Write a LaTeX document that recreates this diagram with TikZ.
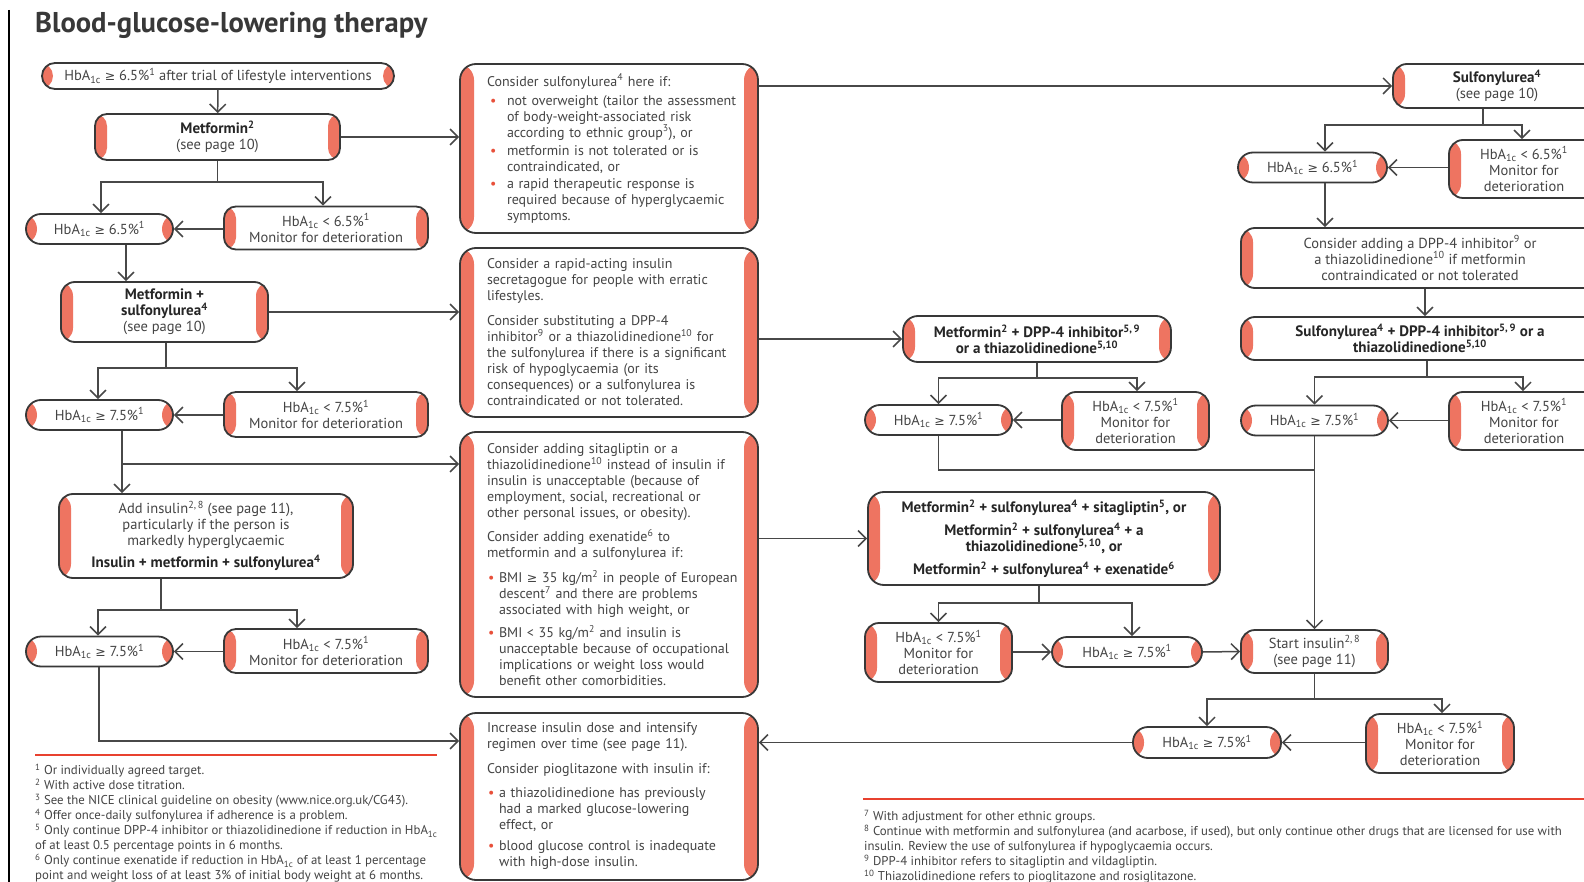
\documentclass[tikz,border=0pt]{standalone}
\usepackage{fontspec}
\setmainfont{PT Sans}[BoldFeatures={Scale=1.04}]
\newfontfamily\symfont{DejaVu Sans}
\usetikzlibrary{arrows.meta}

\definecolor{bandred}{HTML}{EE7461}
\definecolor{dotred}{HTML}{E8503A}
\definecolor{rulered}{HTML}{E8412F}
\definecolor{edge}{HTML}{383838}
\definecolor{wire}{HTML}{484848}
\definecolor{ink}{HTML}{444444}
\definecolor{inkdark}{HTML}{262626}

\newcommand\hba{HbA\textsubscript{1c}}
\newcommand\gesym{{\symfont\fontsize{12.5}{12.5}\selectfont ≥}}
\newcommand\fontL{\fontsize{14.5}{16}\selectfont}
\newcommand\fontM{\fontsize{14}{16}\selectfont}
\newcommand\fontR{\fontsize{14.5}{16}\selectfont}
\newcommand\fontN{\fontsize{12.8}{15}\selectfont}
\newcommand\bb[1]{{\bfseries\color{inkdark}#1}}
% bullet item: #1 space before bullet, #2 indent of text, #3 lines
\newcommand\bul[3]{\par\noindent\makebox[#2][l]{\hspace{#1}\textcolor{dotred}{\textbullet}}\parbox[t]{270pt}{\raggedright #3}\par}

\tikzset{
  bandw/.store in=\bandw, bandw=12pt,
  box/.style={draw=edge, line width=1.8pt, fill=white, rounded corners=12pt,
    inner sep=0pt, align=center, text=ink, font=\fontL,
    path picture={
      \fill[bandred] (path picture bounding box.south west) rectangle
        ([xshift=\bandw]path picture bounding box.north west);
      \fill[bandred] (path picture bounding box.south east) rectangle
        ([xshift=-\bandw]path picture bounding box.north east);
    }},
  pill/.style={box, rounded corners=15pt, bandw=11pt},
  note/.style={box, bandw=14pt, rounded corners=16pt, font=\fontM,
    text width=244pt, align=left, minimum width=298pt},
  rbox/.style={box, font=\fontR},
  rpill/.style={pill, font=\fontR},
  conn/.style={draw=wire, line width=1.5pt},
  arr/.style={conn, -{Straight Barb[length=8pt,width=16pt]}},
  foot/.style={anchor=north west, inner sep=0pt, align=left, text=ink, font=\fontN}
}

\begin{document}
\begin{tikzpicture}[x=1pt,y=-1pt]
\useasboundingbox[fill=white] (0,0) rectangle (1584,882);

% page margin rule and title
\draw[black, line width=1.5pt] (9,10) -- (9,882);
\node[anchor=base west, inner sep=0pt, text=edge,
      font=\fontsize{27.5}{30}\selectfont\bfseries] (title) at (35,33)
      {Blood-glucose-lowering therapy};

% ---------- left column ----------
\node[box, minimum width=352pt, minimum height=26pt, rounded corners=13pt, bandw=11pt]
  (start) at (218,76) {\hba\ \gesym\ 6.5\%\textsuperscript{1} after trial of lifestyle interventions};
\node[box, minimum width=245pt, minimum height=46pt] (met) at (217.5,137)
  {\bb{Metformin\textsuperscript{2}}\\(see page 10)};
\node[pill, minimum width=147pt, minimum height=30pt] (hba1) at (99.5,229)
  {\hba\ \gesym\ 6.5\%\textsuperscript{1}};
\node[box, minimum width=204pt, minimum height=43pt] (mon1) at (326,228)
  {\hba\ < 6.5\%\textsuperscript{1}\\Monitor for deterioration};
\node[box, minimum width=207pt, minimum height=60pt, rounded corners=14pt] (metsu) at (164.5,312)
  {\bb{Metformin +}\\\bb{sulfonylurea\textsuperscript{4}}\\(see page 10)};
\node[pill, minimum width=147pt, minimum height=30pt] (hba2) at (99.5,415)
  {\hba\ \gesym\ 7.5\%\textsuperscript{1}};
\node[box, minimum width=204pt, minimum height=45pt] (mon2) at (326,414.5)
  {\hba\ < 7.5\%\textsuperscript{1}\\Monitor for deterioration};
\node[box, minimum width=294pt, minimum height=84pt, rounded corners=14pt] (addins) at (206,536)
  {Add insulin\textsuperscript{2,\,8} (see page 11),\\particularly if the person is\\markedly hyperglycaemic\\[6pt]
   \bb{Insulin + metformin + sulfonylurea\textsuperscript{4}}};
\node[pill, minimum width=147pt, minimum height=30pt] (hba3) at (99.5,651.5)
  {\hba\ \gesym\ 7.5\%\textsuperscript{1}};
\node[box, minimum width=204pt, minimum height=44pt] (mon3) at (326,651)
  {\hba\ < 7.5\%\textsuperscript{1}\\Monitor for deterioration};

% ---------- middle column ----------
\node[note, minimum height=169pt] (csu) at (609,148.5)
  {Consider sulfonylurea\textsuperscript{4} here if:\par\vspace{3pt}
   \bul{3pt}{20pt}{not overweight (tailor the assessment\\of body-weight-associated risk\\according to ethnic group\textsuperscript{3}), or}\vspace{4pt}
   \bul{3pt}{20pt}{metformin is not tolerated or is\\contraindicated, or}\vspace{4pt}
   \bul{3pt}{20pt}{a rapid therapeutic response is\\required because of hyperglycaemic\\symptoms.}};
\node[note, minimum height=169pt] (crapid) at (609,332.5)
  {Consider a rapid-acting insulin\\secretagogue for people with erratic\\lifestyles.\par\vspace{9pt}
   Consider substituting a DPP-4\\inhibitor\textsuperscript{9} or a thiazolidinedione\textsuperscript{10} for\\the sulfonylurea if there is a significant\\risk of hypoglycaemia (or its\\consequences) or a sulfonylurea is\\contraindicated or not tolerated.};
\node[note, minimum height=265pt] (csita) at (609,564.5)
  {Consider adding sitagliptin or a\\thiazolidinedione\textsuperscript{10} instead of insulin if\\insulin is unacceptable (because of\\employment, social, recreational or\\other personal issues, or obesity).\par\vspace{8pt}
   Consider adding exenatide\textsuperscript{6} to\\metformin and a sulfonylurea if:\par\vspace{9pt}
   \bul{1pt}{12pt}{BMI \gesym\ 35 kg/m\textsuperscript{2} in people of European\\descent\textsuperscript{7} and there are problems\\associated with high weight, or}\vspace{7pt}
   \bul{1pt}{12pt}{BMI < 35 kg/m\textsuperscript{2} and insulin is\\unacceptable because of occupational\\implications or weight loss would\\benefit other comorbidities.}};
\node[note, minimum height=167pt] (cinc) at (609,796.5)
  {Increase insulin dose and intensify\\regimen over time (see page 11).\par\vspace{9pt}
   Consider pioglitazone with insulin if:\par\vspace{8pt}
   \bul{1pt}{12pt}{a thiazolidinedione has previously\\had a marked glucose-lowering\\effect, or}\vspace{8pt}
   \bul{1pt}{12pt}{blood glucose control is inadequate\\with high-dose insulin.}};

% ---------- centre-right column ----------
\node[rbox, minimum width=268pt, minimum height=46pt, rounded corners=15pt] (mdpp) at (1037,339)
  {\bb{Metformin\textsuperscript{2} + DPP-4 inhibitor\textsuperscript{5,\,9}}\\\bb{or a thiazolidinedione\textsuperscript{5,10}}};
\node[rpill, minimum width=147pt, minimum height=30pt] (hba4) at (938.5,420)
  {\hba\ \gesym\ 7.5\%\textsuperscript{1}};
\node[rbox, minimum width=147pt, minimum height=58pt, rounded corners=14pt] (mon4) at (1135.5,421)
  {\hba\ < 7.5\%\textsuperscript{1}\\Monitor for\\deterioration};
\node[rbox, minimum width=352pt, minimum height=93pt, rounded corners=16pt] (big) at (1044,538.5)
  {\bb{Metformin\textsuperscript{2} + sulfonylurea\textsuperscript{4} + sitagliptin\textsuperscript{5}, or}\\[7pt]
   \bb{Metformin\textsuperscript{2} + sulfonylurea\textsuperscript{4} + a}\\\bb{thiazolidinedione\textsuperscript{5,\,10}, or}\\[7pt]
   \bb{Metformin\textsuperscript{2} + sulfonylurea\textsuperscript{4} + exenatide\textsuperscript{6}}};
\node[rbox, minimum width=147pt, minimum height=59pt, rounded corners=14pt] (mon5) at (938.5,652.5)
  {\hba\ < 7.5\%\textsuperscript{1}\\Monitor for\\deterioration};
\node[rpill, minimum width=150pt, minimum height=30pt] (hba5) at (1127,652)
  {\hba\ \gesym\ 7.5\%\textsuperscript{1}};

% ---------- right column ----------
\node[rbox, minimum width=208pt, minimum height=44pt, rounded corners=14pt] (su) at (1497,86)
  {\bb{Sulfonylurea\textsuperscript{4}}\\(see page 10)};
\node[rpill, minimum width=149pt, minimum height=30pt] (hba6) at (1312.5,167.5)
  {\hba\ \gesym\ 6.5\%\textsuperscript{1}};
\node[rbox, minimum width=150pt, minimum height=58pt, rounded corners=14pt] (mon6) at (1524,169)
  {\hba\ < 6.5\%\textsuperscript{1}\\Monitor for\\deterioration};
\node[rbox, minimum width=358pt, minimum height=60pt, rounded corners=14pt] (cdpp) at (1420,258)
  {Consider adding a DPP-4 inhibitor\textsuperscript{9} or\\a thiazolidinedione\textsuperscript{10} if metformin\\contraindicated or not tolerated};
\node[rbox, minimum width=358pt, minimum height=43pt, rounded corners=14pt] (sudpp) at (1420,338.5)
  {\bb{Sulfonylurea\textsuperscript{4} + DPP-4 inhibitor\textsuperscript{5,\,9} or a}\\\bb{thiazolidinedione\textsuperscript{5,10}}};
\node[rpill, minimum width=147pt, minimum height=30pt] (hba7) at (1314.5,420.5)
  {\hba\ \gesym\ 7.5\%\textsuperscript{1}};
\node[rbox, minimum width=150pt, minimum height=58pt, rounded corners=14pt] (mon7) at (1524,421)
  {\hba\ < 7.5\%\textsuperscript{1}\\Monitor for\\deterioration};
\node[rbox, minimum width=147pt, minimum height=43pt, rounded corners=14pt] (startins) at (1314.5,651.5)
  {Start insulin\textsuperscript{2,\,8}\\(see page 11)};
\node[rpill, minimum width=148pt, minimum height=31pt] (hba8) at (1207,742.5)
  {\hba\ \gesym\ 7.5\%\textsuperscript{1}};
\node[rbox, minimum width=148pt, minimum height=59pt, rounded corners=14pt] (mon8) at (1440,743.5)
  {\hba\ < 7.5\%\textsuperscript{1}\\Monitor for\\deterioration};

% ---------- connectors: left column ----------
\draw[arr] (start) -- (met);
\coordinate (j1) at (217.5,182);
\draw[conn] (met.south) -- (j1);
\draw[arr] (j1) -| ([xshift=1.5]hba1.north);
\draw[arr] (j1) -| ([xshift=-3]mon1.north);
\draw[arr] (mon1.west |- hba1.east) -- (hba1.east);
\draw[arr] ([xshift=26.5]hba1.south) -- ([xshift=26.5]hba1.south |- metsu.north);

\coordinate (j2) at (166,368);
\draw[conn] (j2 |- metsu.south) -- (j2);
\draw[arr] (j2) -| ([xshift=-1.5]hba2.north);
\draw[arr] (j2) -| ([xshift=-29]mon2.north);
\draw[arr] (mon2.west |- hba2.east) -- (hba2.east);

\coordinate (j3) at (122,464);
\draw[arr] ([xshift=22.5]hba2.south) -- ([xshift=22.5]hba2.south |- addins.north);
\draw[arr] (j3) -- (j3 -| csita.west);

\coordinate (j4) at (161,610);
\draw[conn] (j4 |- addins.south) -- (j4);
\draw[arr] (j4) -| ([xshift=-1.5]hba3.north);
\draw[arr] (j4) -| ([xshift=-29]mon3.north);
\draw[arr] (mon3.west |- hba3.east) -- (hba3.east);

\coordinate (j5) at (99,741);
\draw[arr] (j5 |- hba3.south) -- (j5) -- (j5 -| cinc.west);

% ---------- connectors: middle to right ----------
\draw[arr] (met.east) -- (met.east -| csu.west);
\draw[arr] (metsu.east) -- (metsu.east -| crapid.west);
\draw[arr] (csu.east |- su.west) -- (su.west);
\draw[arr] (crapid.east |- mdpp.west) -- (mdpp.west);
\draw[arr] (csita.east |- big.west) -- (big.west);
\draw[arr] (hba8.west) -- (hba8.west -| cinc.east);

% ---------- connectors: centre-right column ----------
\coordinate (j6) at (1037,378);
\draw[conn] (mdpp.south) -- (j6);
\draw[arr] (j6) -| (hba4.north);
\draw[arr] (j6) -| ([xshift=1.5]mon4.north);
\draw[arr] (mon4.west |- hba4.east) -- (hba4.east);
\coordinate (j7) at (1314.5,470);
\draw[conn] (hba4.south) |- (j7);

\coordinate (j8) at (1039,603);
\draw[conn] (j8 |- big.south) -- (j8);
\draw[arr] (j8) -| (mon5.north);
\draw[arr] (j8) -| ([xshift=5]hba5.north);
\draw[arr] (mon5.east |- hba5.west) -- (hba5.west);
\draw[arr] (hba5.east) -- (startins.west);

% ---------- connectors: right column ----------
\coordinate (j9) at (1483,125);
\draw[conn] (j9 |- su.south) -- (j9);
\draw[arr] (j9) -| ([xshift=12.5]hba6.north);
\draw[arr] (j9) -| ([xshift=-2]mon6.north);
\draw[arr] (mon6.west |- hba6.east) -- (hba6.east);
\draw[arr] ([xshift=12.5]hba6.south) -- ([xshift=12.5]hba6.south |- cdpp.north);
\draw[arr] ([xshift=5]cdpp.south) -- ([xshift=5]cdpp.south |- sudpp.north);

\coordinate (j10) at (1427,377);
\draw[conn] (j10 |- sudpp.south) -- (j10);
\draw[arr] (j10) -| (hba7.north);
\draw[arr] (j10) -| ([xshift=-1]mon7.north);
\draw[arr] (mon7.west |- hba7.east) -- (hba7.east);
\draw[arr] (hba7.south) -- (startins.north);

\coordinate (j11) at (1314.5,699);
\draw[conn] (startins.south) -- (j11);
\draw[arr] (j11) -| (hba8.north);
\draw[arr] (j11) -| ([xshift=2]mon8.north);
\draw[arr] (mon8.west |- hba8.east) -- (hba8.east);

% ---------- footnotes ----------
\draw[rulered, line width=1.2pt] (35,755) -- (437,755);
\node[foot] (notesL) at (35,764)
  {\textsuperscript{1} Or individually agreed target.\\
   \textsuperscript{2} With active dose titration.\\
   \textsuperscript{3} See the NICE clinical guideline on obesity (www.nice.org.uk/CG43).\\
   \textsuperscript{4} Offer once-daily sulfonylurea if adherence is a problem.\\
   \textsuperscript{5} Only continue DPP-4 inhibitor or thiazolidinedione if reduction in \hba\\
   of at least 0.5 percentage points in 6 months.\\
   \textsuperscript{6} Only continue exenatide if reduction in \hba\ of at least 1 percentage\\
   point and weight loss of at least 3\% of initial body weight at 6 months.};
\draw[rulered, line width=1.2pt] (863,799) -- (1584,799);
\node[foot] (notesR) at (864,810)
  {\textsuperscript{7} With adjustment for other ethnic groups.\\
   \textsuperscript{8} Continue with metformin and sulfonylurea (and acarbose, if used), but only continue other drugs that are licensed for use with\\
   insulin. Review the use of sulfonylurea if hypoglycaemia occurs.\\
   \textsuperscript{9} DPP-4 inhibitor refers to sitagliptin and vildagliptin.\\
   \textsuperscript{10} Thiazolidinedione refers to pioglitazone and rosiglitazone.};
\end{tikzpicture}
\end{document}
